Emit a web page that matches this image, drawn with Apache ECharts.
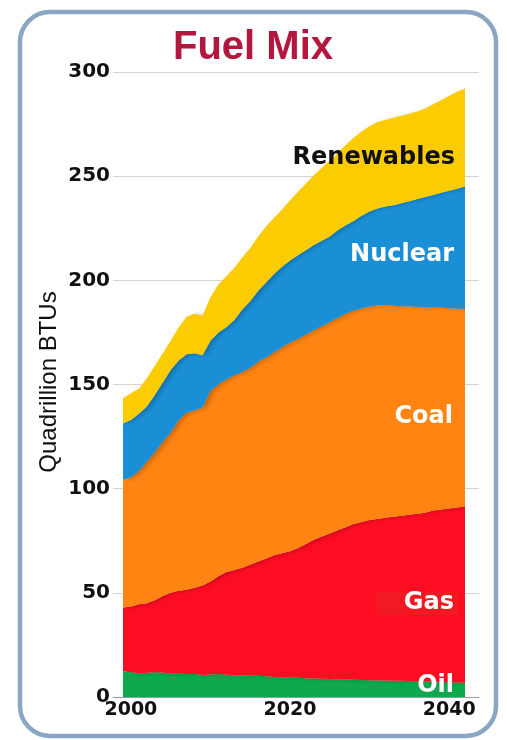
<!DOCTYPE html>
<html>
<head>
<meta charset="utf-8">
<title>Fuel Mix</title>
<script src="https://cdn.jsdelivr.net/npm/echarts@6/dist/echarts.min.js"></script>
<style>
  html, body { margin: 0; padding: 0; background: #ffffff; }
  #chart { width: 507px; height: 740px; }
</style>
</head>
<body>
<div id="chart"></div>
<script>
// Energy consumption by fuel, quadrillion BTUs (each fuel's own amount; the areas are stacked)
const years = [
  1999, 2000, 2001, 2002, 2003, 2004, 2005, 2006, 2007, 2008,
  2009, 2010, 2011, 2012, 2013, 2014, 2015, 2016, 2017, 2018,
  2019, 2020, 2021, 2022, 2023, 2024, 2025, 2026, 2027, 2028,
  2029, 2030, 2031, 2032, 2033, 2034, 2035, 2036, 2037, 2038,
  2039, 2040, 2041, 2042
];
const oil = [
  12.2, 12.0, 11.3, 11.6, 12.0, 11.8, 11.3, 11.2, 11.0, 11.0,
  10.6, 10.8, 11.0, 10.8, 10.5, 10.3, 10.2, 10.2, 10.0, 9.6,
  9.4, 9.3, 9.2, 9.0, 8.9, 8.8, 8.7, 8.5, 8.4, 8.3,
  8.2, 8.1, 8.0, 7.9, 7.8, 7.8, 7.7, 7.6, 7.5, 7.4,
  7.2, 7.1, 7.0, 6.9
];
const gas = [
  30.8, 31.5, 33.2, 33.4, 34.5, 36.7, 38.7, 39.8, 40.5, 41.5,
  42.9, 44.7, 47.0, 49.2, 50.5, 51.7, 53.3, 54.8, 56.5, 58.4,
  59.6, 60.7, 62.3, 64.5, 66.6, 68.2, 69.8, 71.5, 73.1, 74.7,
  75.8, 76.9, 77.5, 78.1, 78.7, 79.2, 79.8, 80.4, 81.0, 82.1,
  82.8, 83.4, 84.0, 84.6
];
const coal = [
  61.2, 62.0, 64.0, 68.0, 71.0, 74.0, 77.0, 82.0, 85.0, 85.0,
  85.5, 91.5, 92.0, 92.5, 93.5, 94.0, 94.5, 96.0, 96.5, 97.5,
  99.0, 100.0, 100.5, 100.5, 100.5, 101.0, 101.5, 102.0, 102.5, 102.5,
  102.5, 102.5, 102.5, 102.0, 101.3, 100.6, 99.9, 99.2, 98.5, 97.5,
  96.8, 96.1, 95.4, 94.7
];
const nuclear = [
  27.2, 27.5, 27.5, 26.5, 27.5, 28.5, 30.0, 28.5, 28.0, 27.5,
  25.0, 24.0, 25.0, 25.0, 26.5, 30.0, 32.0, 34.0, 36.0, 37.5,
  38.5, 39.5, 40.0, 40.5, 41.0, 41.0, 41.0, 42.0, 42.5, 43.0,
  44.5, 45.5, 46.5, 47.5, 48.2, 49.4, 50.6, 51.8, 53.0, 54.0,
  55.2, 56.4, 57.6, 58.8
];
const renewables = [
  12.0, 12.8, 12.0, 13.5, 14.0, 14.0, 14.0, 16.0, 18.0, 19.0,
  19.0, 21.0, 23.0, 24.5, 25.0, 25.0, 25.5, 26.0, 27.0, 27.0,
  27.5, 29.0, 30.5, 32.0, 33.5, 35.0, 36.5, 37.0, 38.5, 40.0,
  40.5, 41.0, 41.5, 41.5, 42.0, 42.0, 42.0, 42.0, 42.5, 43.5,
  44.5, 45.5, 46.5, 47.0
];
const yTicks = [0, 50, 100, 150, 200, 250, 300];
const xTicks = [2000, 2020, 2040];

const fuels = [
  { name: 'Oil', values: oil, color: '#0fa84c' },
  { name: 'Gas', values: gas, color: '#fd0d22' },
  { name: 'Coal', values: coal, color: '#ff8412' },
  { name: 'Nuclear', values: nuclear, color: '#1b8fd6' },
  { name: 'Renewables', values: renewables, color: '#fccc02' }
];

const chart = echarts.init(document.getElementById('chart'), null, { renderer: 'canvas' });

const labelFont = 'DejaVu Sans, Liberation Sans, Arial, sans-serif';

// Grid 0 holds the stacked areas (year categories, edge to edge);
// grid 1 is a slightly wider frame that carries the gridlines, baseline and tick labels.
const series = fuels.map((f, i) => ({
  name: f.name,
  type: 'line',
  xAxisIndex: 0,
  yAxisIndex: 0,
  stack: 'fuel',
  symbol: 'none',
  lineStyle: { width: 0 },
  areaStyle: {
    color: f.color,
    opacity: 1,
    shadowColor: 'rgba(0,0,0,0.22)',
    shadowBlur: 4,
    shadowOffsetX: 4
  },
  itemStyle: { color: f.color },
  data: f.values,
  z: 2 + i
}));

chart.setOption({
  animation: false,
  backgroundColor: '#ffffff',
  title: {
    text: 'Fuel Mix',
    left: 248,
    top: 23,
    textAlign: 'center',
    textStyle: {
      color: '#b3173d',
      fontFamily: 'Liberation Sans, Arial, sans-serif',
      fontWeight: 'bold',
      fontSize: 40
    }
  },
  grid: [
    { left: 123, right: 42, top: 72, bottom: 43, containLabel: false },
    { left: 113, right: 28, top: 72, bottom: 43, containLabel: false }
  ],
  xAxis: [
    {
      gridIndex: 0,
      type: 'category',
      data: years.map(String),
      boundaryGap: false,
      show: false
    },
    {
      gridIndex: 1,
      type: 'value',
      min: 1997.75,
      max: 2043.75,
      axisLine: { show: true, lineStyle: { color: '#9a9a9a', width: 1 } },
      axisTick: { show: false },
      splitLine: { show: false },
      axisLabel: {
        customValues: xTicks,
        color: '#111',
        fontFamily: labelFont,
        fontWeight: 'bold',
        fontSize: 19,
        margin: 4,
        formatter: v => String(v)
      }
    }
  ],
  yAxis: [
    {
      gridIndex: 0,
      type: 'value',
      min: 0,
      max: 300,
      show: false,
      splitLine: { show: false }
    },
    {
      gridIndex: 1,
      type: 'value',
      min: 0,
      max: 300,
      interval: 50,
      axisLine: { show: false },
      axisTick: { show: false },
      splitLine: { show: true, lineStyle: { color: '#d4d4d4', width: 1 } },
      axisLabel: {
        color: '#111',
        fontFamily: labelFont,
        fontWeight: 'bold',
        fontSize: 20,
        margin: 3,
        formatter: v => (yTicks.includes(v) ? String(v) : '')
      }
    }
  ],
  series: series,
  graphic: [
    {
      type: 'rect',
      z: -10,
      silent: true,
      shape: { x: 20, y: 12, width: 476, height: 724, r: 30 },
      style: { fill: '#ffffff', stroke: '#8aa6c4', lineWidth: 4.5 }
    },
    {
      type: 'text',
      silent: true,
      x: 49, y: 382,
      rotation: Math.PI / 2,
      style: {
        text: 'Quadrillion BTUs',
        fill: '#111',
        font: '24px "Liberation Sans", Arial, sans-serif',
        textAlign: 'center',
        textVerticalAlign: 'middle'
      }
    },
    {
      type: 'text', silent: true, z: 100,
      x: 455, y: 158,
      style: {
        text: 'Renewables', fill: '#111',
        font: 'bold 24px "DejaVu Sans", sans-serif',
        textAlign: 'right', textVerticalAlign: 'middle'
      }
    },
    {
      type: 'text', silent: true, z: 100,
      x: 454, y: 255,
      style: {
        text: 'Nuclear', fill: '#ffffff',
        font: 'bold 24px "DejaVu Sans", sans-serif',
        textAlign: 'right', textVerticalAlign: 'middle'
      }
    },
    {
      type: 'text', silent: true, z: 100,
      x: 453, y: 417,
      style: {
        text: 'Coal', fill: '#ffffff',
        font: 'bold 24px "DejaVu Sans", sans-serif',
        textAlign: 'right', textVerticalAlign: 'middle'
      }
    },
    {
      type: 'rect', silent: true, z: 99,
      shape: { x: 376, y: 592, width: 82, height: 23 },
      style: { fill: '#f21a22' }
    },
    {
      type: 'text', silent: true, z: 100,
      x: 454, y: 603,
      style: {
        text: 'Gas', fill: '#ffffff',
        font: 'bold 24px "DejaVu Sans", sans-serif',
        textAlign: 'right', textVerticalAlign: 'middle'
      }
    },
    {
      type: 'text', silent: true, z: 100,
      x: 454, y: 686,
      style: {
        text: 'Oil', fill: '#ffffff',
        font: 'bold 24px "DejaVu Sans", sans-serif',
        textAlign: 'right', textVerticalAlign: 'middle'
      }
    }
  ]
});
</script>
</body>
</html>
